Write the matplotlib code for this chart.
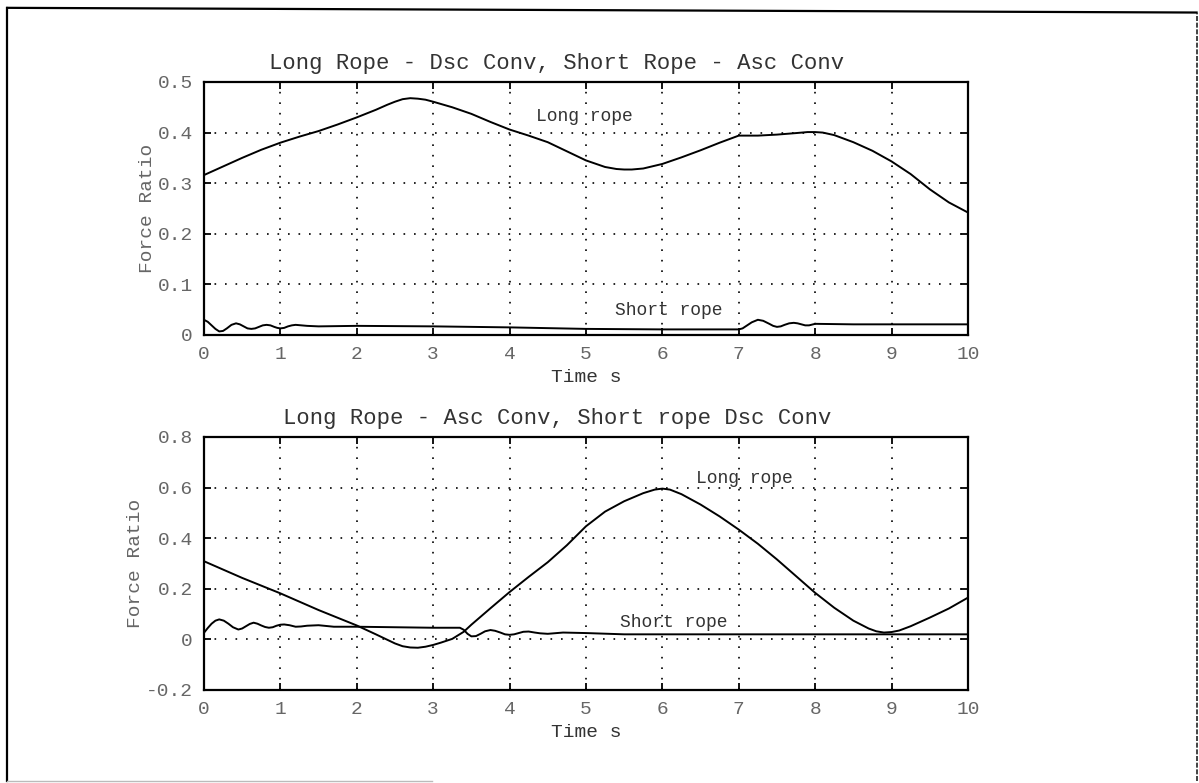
import matplotlib
matplotlib.use("Agg")
import matplotlib.pyplot as plt
from matplotlib.lines import Line2D

# -------------------------
# DATA
# -------------------------
top_long_t = [0, 0.25, 0.5, 0.75, 1.0, 1.25, 1.5, 1.75, 2.0, 2.25, 2.4, 2.5, 2.6, 2.7,
              2.8, 2.9, 3.0, 3.25, 3.5, 3.75, 4.0, 4.25, 4.5, 4.75, 5.0, 5.25, 5.4,
              5.5, 5.6, 5.75, 6.0, 6.25, 6.5, 6.75, 7.0, 7.25, 7.5, 7.75, 7.9, 8.0,
              8.1, 8.25, 8.5, 8.75, 9.0, 9.25, 9.5, 9.75, 9.9, 10.0]
top_long_v = [0.316, 0.333, 0.350, 0.366, 0.380, 0.392, 0.403, 0.416, 0.430, 0.445,
              0.455, 0.461, 0.466, 0.468, 0.467, 0.465, 0.461, 0.450, 0.437, 0.421,
              0.406, 0.394, 0.381, 0.363, 0.345, 0.332, 0.328, 0.327, 0.327, 0.329,
              0.338, 0.351, 0.365, 0.380, 0.394, 0.394, 0.396, 0.399, 0.401, 0.401,
              0.400, 0.395, 0.381, 0.364, 0.343, 0.318, 0.288, 0.262, 0.250, 0.242]

top_short_t = [0, 0.05, 0.1, 0.15, 0.2, 0.25, 0.3, 0.36, 0.42, 0.47, 0.52, 0.57, 0.62,
               0.67, 0.72, 0.77, 0.82, 0.87, 0.92, 0.96, 1.0, 1.05, 1.1, 1.15, 1.2,
               1.35, 1.5, 2.0, 3.0, 4.0, 5.0, 6.0, 7.0, 7.05, 7.1, 7.17, 7.25, 7.32,
               7.4, 7.45, 7.5, 7.55, 7.6, 7.66, 7.72, 7.77, 7.82, 7.87, 7.92, 8.0,
               8.5, 9.0, 10.0]
top_short_v = [0.030, 0.026, 0.019, 0.012, 0.007, 0.008, 0.013, 0.020, 0.023, 0.021,
               0.017, 0.013, 0.012, 0.013, 0.016, 0.019, 0.020, 0.019, 0.016, 0.014,
               0.013, 0.014, 0.017, 0.019, 0.020, 0.018, 0.017, 0.018, 0.017, 0.015,
               0.012, 0.011, 0.011, 0.013, 0.018, 0.025, 0.030, 0.028, 0.022, 0.018,
               0.016, 0.017, 0.020, 0.023, 0.024, 0.023, 0.021, 0.019, 0.019, 0.022,
               0.021, 0.021, 0.021]

bot_long_t = [0, 0.5, 1.0, 1.5, 2.0, 2.25, 2.5, 2.6, 2.7, 2.8, 2.9, 3.0, 3.1, 3.25,
              3.4, 3.5, 3.75, 4.0, 4.25, 4.5, 4.75, 5.0, 5.25, 5.5, 5.75, 5.9, 6.0,
              6.1, 6.25, 6.5, 6.75, 7.0, 7.25, 7.5, 7.75, 8.0, 8.25, 8.5, 8.7, 8.8,
              8.9, 9.0, 9.1, 9.25, 9.5, 9.75, 10.0]
bot_long_v = [0.309, 0.243, 0.182, 0.116, 0.055, 0.020, -0.016, -0.027, -0.032, -0.033,
              -0.029, -0.022, -0.013, 0.002, 0.030, 0.058, 0.123, 0.187, 0.247, 0.305,
              0.372, 0.447, 0.505, 0.546, 0.578, 0.592, 0.596, 0.592, 0.574, 0.533,
              0.486, 0.434, 0.378, 0.316, 0.250, 0.184, 0.125, 0.074, 0.043, 0.032,
              0.027, 0.029, 0.035, 0.052, 0.086, 0.122, 0.165]

bot_short_t = [0, 0.05, 0.1, 0.15, 0.2, 0.26, 0.32, 0.38, 0.45, 0.5, 0.55, 0.6, 0.65,
               0.7, 0.75, 0.8, 0.85, 0.9, 0.95, 1.0, 1.05, 1.12, 1.2, 1.27, 1.35, 1.5,
               1.7, 2.0, 2.5, 3.0, 3.35, 3.4, 3.45, 3.5, 3.56, 3.62, 3.68, 3.75, 3.81,
               3.88, 3.94, 4.0, 4.06, 4.12, 4.18, 4.25, 4.33, 4.4, 4.5, 4.7, 5.0, 5.5,
               6.0, 10.0]
bot_short_v = [0.026, 0.045, 0.062, 0.074, 0.079, 0.074, 0.062, 0.048, 0.039, 0.043,
               0.052, 0.061, 0.066, 0.062, 0.055, 0.049, 0.046, 0.048, 0.054, 0.058,
               0.059, 0.056, 0.050, 0.051, 0.054, 0.056, 0.050, 0.050, 0.048, 0.046,
               0.046, 0.038, 0.022, 0.012, 0.013, 0.022, 0.032, 0.037, 0.034, 0.027,
               0.020, 0.018, 0.020, 0.025, 0.030, 0.031, 0.027, 0.024, 0.022, 0.027,
               0.025, 0.020, 0.020, 0.020]

x_ticks = list(range(0, 11))
top_yticks = [0, 0.1, 0.2, 0.3, 0.4, 0.5]
top_ylabels = ["0", "0.1", "0.2", "0.3", "0.4", "0.5"]
bot_yticks = [-0.2, 0, 0.2, 0.4, 0.6, 0.8]
bot_ylabels = ["-0.2", "0", "0.2", "0.4", "0.6", "0.8"]

titles = ["Long Rope - Dsc Conv, Short Rope - Asc Conv",
          "Long Rope - Asc Conv, Short rope Dsc Conv"]

FONT = "Liberation Mono"
TXT = "#333333"
TICK = "#666666"

# -------------------------
# PLOT
# -------------------------
fig = plt.figure(figsize=(11.99, 7.83), dpi=100)

ax_top = fig.add_axes([0.1701, 0.5722, 0.6372, 0.3231])
ax_bot = fig.add_axes([0.1701, 0.1188, 0.6372, 0.3231])


def style_axes(ax, yticks, ylabels, ylim, title):
    ax.set_xlim(0, 10)
    ax.set_ylim(*ylim)
    ax.set_xticks(x_ticks)
    ax.set_xticklabels([str(v) for v in x_ticks], fontfamily=FONT, fontsize=14)
    ax.set_yticks(yticks)
    ax.set_yticklabels(ylabels, fontfamily=FONT, fontsize=14)
    ax.tick_params(direction="in", length=5, width=1.3, top=True, right=True,
                   pad=8, colors="black", labelcolor=TICK)
    ax.grid(True, color="black", linewidth=1.2, linestyle=(0, (1, 5.3)))
    for s in ax.spines.values():
        s.set_linewidth(1.6)
    ax.set_title(title, fontfamily=FONT, fontsize=16, color=TXT, pad=9, x=0.462)
    ax.set_xlabel("Time s", fontfamily=FONT, fontsize=14, color=TXT, labelpad=4)
    ax.set_ylabel("Force Ratio", fontfamily=FONT, fontsize=14, color=TICK, labelpad=1)


ax_top.plot(top_long_t, top_long_v, color="black", linewidth=1.4)
ax_top.plot(top_short_t, top_short_v, color="black", linewidth=1.4)
style_axes(ax_top, top_yticks, top_ylabels, (0, 0.5), titles[0])
ax_top.text(4.35, 0.431, "Long rope", fontfamily=FONT, fontsize=13, color=TXT, va="center")
ax_top.text(5.38, 0.048, "Short rope", fontfamily=FONT, fontsize=13, color=TXT, va="center")

ax_bot.plot(bot_long_t, bot_long_v, color="black", linewidth=1.4)
ax_bot.plot(bot_short_t, bot_short_v, color="black", linewidth=1.4)
style_axes(ax_bot, bot_yticks, bot_ylabels, (-0.2, 0.8), titles[1])
ax_bot.text(6.44, 0.634, "Long rope", fontfamily=FONT, fontsize=13, color=TXT, va="center")
ax_bot.text(5.45, 0.066, "Short rope", fontfamily=FONT, fontsize=13, color=TXT, va="center")

# page frame of the scan
fig.add_artist(Line2D([0.006, 0.006], [0.003, 0.99], transform=fig.transFigure,
                      color="black", linewidth=1.6))
fig.add_artist(Line2D([0.006, 0.998], [0.99, 0.984], transform=fig.transFigure,
                      color="black", linewidth=1.6))
fig.add_artist(Line2D([0.998, 0.998], [0.003, 0.984], transform=fig.transFigure,
                      color="#222222", linewidth=1.2, linestyle=(0, (3, 1))))
fig.add_artist(Line2D([0.006, 0.36], [0.003, 0.003], transform=fig.transFigure,
                      color="#bbbbbb", linewidth=1.0))

fig.savefig("out.png", dpi=100)
plt.close(fig)
